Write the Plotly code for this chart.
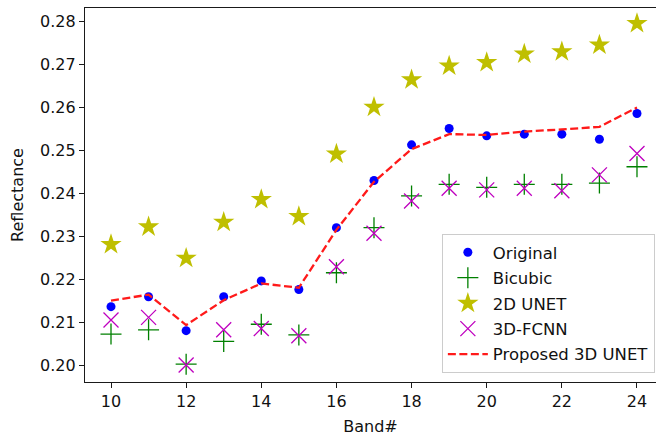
import plotly.graph_objects as go

bands = [10, 11, 12, 13, 14, 15, 16, 17, 18, 19, 20, 21, 22, 23, 24]
original = [0.2136, 0.2159, 0.2080, 0.2159, 0.2196, 0.2176, 0.2320, 0.2430, 0.2513, 0.2551, 0.2534, 0.2538, 0.2538, 0.2526, 0.2586]
bicubic = [0.2072, 0.2082, 0.2002, 0.2055, 0.2095, 0.2070, 0.2215, 0.2320, 0.2394, 0.2421, 0.2414, 0.2421, 0.2421, 0.2424, 0.2462]
unet2d = [0.2281, 0.2322, 0.2249, 0.2333, 0.2386, 0.2346, 0.2492, 0.2601, 0.2665, 0.2697, 0.2705, 0.2725, 0.2730, 0.2746, 0.2796]
fcnn3d = [0.2105, 0.2111, 0.2000, 0.2082, 0.2085, 0.2068, 0.2229, 0.2307, 0.2382, 0.2412, 0.2408, 0.2412, 0.2406, 0.2443, 0.2493]
unet3d = [0.2150, 0.2164, 0.2093, 0.2151, 0.2190, 0.2180, 0.2315, 0.2427, 0.2503, 0.2538, 0.2536, 0.2544, 0.2549, 0.2555, 0.2600]

x_ticks = [10, 12, 14, 16, 18, 20, 22, 24]
y_ticks = [0.20, 0.21, 0.22, 0.23, 0.24, 0.25, 0.26, 0.27, 0.28]
y_tick_labels = ["0.20", "0.21", "0.22", "0.23", "0.24", "0.25", "0.26", "0.27", "0.28"]

FONT = "DejaVu Sans"
AX = "#1a1a1a"

fig = go.Figure()
fig.add_trace(go.Scatter(x=bands, y=original, mode="markers", name="Original", legendgroup="a",
                         marker=dict(symbol="circle", size=9, color="#0000ff", line=dict(width=0))))
fig.add_trace(go.Scatter(x=bands, y=bicubic, mode="markers", name="Bicubic", legendgroup="b",
                         marker=dict(symbol="cross-thin", size=15, color="#008000",
                                     line=dict(width=1.3, color="#008000"))))
fig.add_trace(go.Scatter(x=bands, y=unet2d, mode="markers", name="2D UNET", legendgroup="c",
                         marker=dict(symbol="star", size=16, color="#bfbf00", line=dict(width=0))))
fig.add_trace(go.Scatter(x=bands, y=fcnn3d, mode="markers", name="3D-FCNN", legendgroup="d",
                         marker=dict(symbol="x-thin", size=15, color="#bf00bf",
                                     line=dict(width=1.3, color="#bf00bf"))))
fig.add_trace(go.Scatter(x=bands, y=unet3d, mode="lines", name="Proposed 3D UNET", legendgroup="e",
                         line=dict(color="#ff1a1a", width=2.3, dash="8px,3.5px")))

fig.update_layout(
    width=657, height=436,
    margin=dict(l=85, r=1, t=8, b=54, autoexpand=False),
    paper_bgcolor="white", plot_bgcolor="white",
    font=dict(family=FONT, size=16, color="#111"),
    showlegend=True,
    legend=dict(x=0.998, y=0.024, xanchor="right", yanchor="bottom",
                bgcolor="rgba(255,255,255,0.85)", bordercolor="#cccccc", borderwidth=1,
                font=dict(family=FONT, size=16.5, color="#111"), traceorder="grouped",
                tracegroupgap=1, itemwidth=40),
)
fig.update_xaxes(range=[9.308, 24.506], tickvals=x_ticks, ticks="outside", ticklen=5, tickwidth=1.2,
                 tickcolor=AX, showline=True, linecolor=AX, linewidth=1.2, mirror=True,
                 showgrid=False, zeroline=False, automargin=False,
                 title=dict(text="Band#", font=dict(family=FONT, size=16), standoff=10))
fig.update_yaxes(range=[0.19604, 0.28319], tickvals=y_ticks, ticktext=y_tick_labels, ticks="outside",
                 ticklen=5, tickwidth=1.2, tickcolor=AX, showline=True, linecolor=AX, linewidth=1.2,
                 showgrid=False, zeroline=False, automargin=False,
                 title=dict(text="Reflectance", font=dict(family=FONT, size=16), standoff=12))

fig.write_html("out.html", config={"displayModeBar": False},
               post_script="document.body.style.margin='0';document.body.style.padding='0';document.body.style.overflow='hidden';")
